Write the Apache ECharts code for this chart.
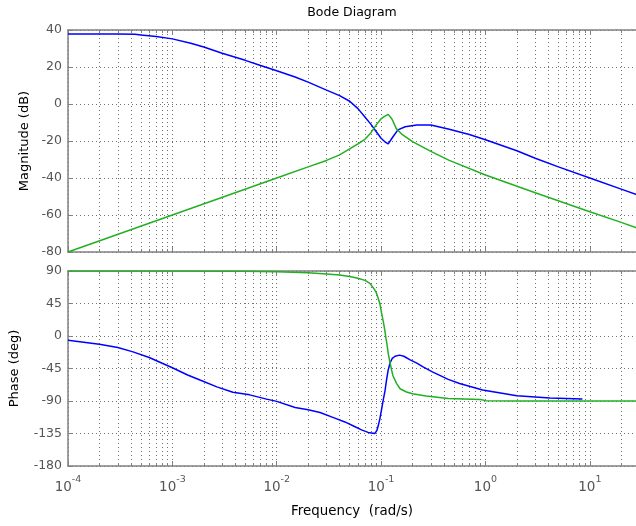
<!DOCTYPE html>
<html><head><meta charset="utf-8">
<script src="https://cdn.jsdelivr.net/npm/echarts@6/dist/echarts.min.js"></script>
<style>html,body{margin:0;padding:0;background:#fff;overflow:hidden;width:636px;height:526px}#c{width:700px;height:526px}</style>
</head><body><div id="c"></div>
<script>
// ---- data ----
const xTickExponents = [-4, -3, -2, -1, 0, 1];
const magTicks = [-80, -60, -40, -20, 0, 20, 40];
const phaseTicks = [-180, -135, -90, -45, 0, 45, 90];

const magBlueFreq = [1e-4, 3e-4, 4.4e-4, 5e-4, 7e-4, 1e-3, 1.5e-3, 2e-3, 3e-3, 5e-3, 7e-3, 1e-2, 1.5e-2, 2e-2, 3e-2, 4e-2, 5e-2, 6e-2, 7e-2, 8e-2, 9e-2, 0.1, 0.108, 0.117, 0.13, 0.145, 0.17, 0.22, 0.3, 0.45, 0.7, 1, 2, 3, 5, 10, 20, 31.6];
const magBlueDb   = [37.8, 37.8, 37.7, 37.3, 36.5, 35.2, 32.8, 30.8, 27.4, 23.6, 20.8, 18.0, 14.6, 11.8, 7.5, 4.5, 1.5, -2.5, -7, -11, -15, -18.5, -20.3, -21.6, -17.7, -14, -12.3, -11.3, -11.4, -13.7, -16.5, -19.3, -25.3, -29.3, -34, -40, -46, -50];

const magGreenFreq = [1e-4, 1e-3, 1e-2, 2e-2, 3e-2, 4e-2, 5e-2, 6e-2, 7e-2, 8e-2, 9e-2, 0.1, 0.107, 0.117, 0.127, 0.14, 0.16, 0.2, 0.3, 0.45, 1, 3, 10, 20, 31.6];
const magGreenDb   = [-80, -60, -40, -34, -30.5, -27.5, -24.3, -21.5, -19.1, -15.5, -11.3, -8, -6.8, -5.6, -8.1, -13.3, -16.6, -20.3, -25.6, -30.5, -38.4, -48, -58.2, -64, -68];

const phBlueFreq = [1e-4, 2e-4, 3e-4, 4.2e-4, 6e-4, 1e-3, 1.4e-3, 1.84e-3, 2.67e-3, 3.8e-3, 5.5e-3, 8e-3, 1e-2, 1.5e-2, 2e-2, 2.6e-2, 3.5e-2, 4.5e-2, 5.5e-2, 6.5e-2, 7.5e-2, 8.7e-2, 9.1e-2, 9.4e-2, 9.75e-2, 0.101, 0.105, 0.109, 0.113, 0.117, 0.122, 0.128, 0.136, 0.15, 0.165, 0.19, 0.22, 0.25, 0.31, 0.44, 0.565, 0.94, 2, 4.15, 8.5];
const phBlueDeg  = [-5.8, -11.3, -16, -22, -29.8, -44, -54, -61, -70.4, -78, -81.5, -87.4, -90.5, -99, -102, -106, -113, -119, -125, -130, -133.5, -135, -131, -124, -114, -102, -88, -76, -60, -47, -37, -31, -28, -26.5, -28, -33, -37.5, -42.5, -49.6, -60, -65.7, -74.9, -82.8, -86, -87.4];

const phGreenFreq = [1e-4, 1e-3, 5e-3, 1e-2, 2e-2, 3e-2, 4e-2, 5e-2, 6e-2, 7e-2, 7.8e-2, 8.5e-2, 9e-2, 9.4e-2, 9.75e-2, 0.101, 0.105, 0.108, 0.111, 0.114, 0.117, 0.121, 0.126, 0.13, 0.141, 0.152, 0.175, 0.2, 0.27, 0.44, 0.9, 1.0, 2, 10, 31.6];
const phGreenDeg  = [90, 90, 89.8, 89, 87.5, 86, 84.5, 82.5, 80, 77, 73, 66, 60, 52, 44, 32, 20, 10, -2, -12, -24, -35, -47, -55, -66, -73, -77.5, -80, -83, -86.4, -88, -89.5, -90, -90, -90];

// ---- chart ----
const zip = (a, b) => a.map((v, i) => [v, b[i]]);
const FONT = 'DejaVu Sans';
const AX = '#808080';
const GRIDC = '#707070';
const LBL = '#555';
const X_MIN = 1e-4, X_MAX = Math.pow(10, 1.5);
const minorLogs = [];
xTickExponents.forEach(e => { for (let m = 2; m <= 9; m++) { const l = Math.log10(m) + e; if (l < 1.5) minorLogs.push(l); } });

const grids = [
  { left: 68, top: 30, width: 574, height: 222 },
  { left: 68, top: 271, width: 574, height: 195 }
];

function xAxesFor(gi, withLabels) {
  return [
    { type: 'log', gridIndex: gi, logBase: 10, min: X_MIN, max: X_MAX, position: 'bottom',
      axisLine: { show: true, onZero: false, lineStyle: { color: AX, width: 1.5 } },
      axisTick: { show: true, inside: true, length: 5, lineStyle: { color: AX } },
      splitLine: { show: true, lineStyle: { color: GRIDC, type: [1, 3], width: 1 } },
      axisLabel: { show: withLabels, margin: 8, fontFamily: FONT,
        formatter: v => { const l = Math.log10(v); const e = Math.round(l); if (Math.abs(l - e) > 1e-6 || xTickExponents.indexOf(e) < 0) return ''; return '{b|10}{s|' + e + '}'; },
        rich: { b: { fontSize: 13.5, color: LBL, fontFamily: FONT, lineHeight: 26 }, s: { fontSize: 9.5, color: LBL, fontFamily: FONT, verticalAlign: 'top', padding: [1, 0, 0, 0] } } } },
    { type: 'value', gridIndex: gi, min: -4, max: 1.5, position: 'bottom',
      axisLine: { show: false, onZero: false }, axisLabel: { show: false },
      axisTick: { show: true, inside: true, length: 3, customValues: minorLogs, lineStyle: { color: AX } },
      splitLine: { show: true, lineStyle: { color: GRIDC, type: [1, 3], width: 1 } } },
    { type: 'log', gridIndex: gi, logBase: 10, min: X_MIN, max: X_MAX, position: 'top',
      axisLine: { show: true, onZero: false, lineStyle: { color: AX, width: 1.5 } },
      axisTick: { show: true, inside: true, length: 5, lineStyle: { color: AX } },
      splitLine: { show: false }, axisLabel: { show: false } },
    { type: 'value', gridIndex: gi, min: -4, max: 1.5, position: 'top',
      axisLine: { show: false, onZero: false }, axisLabel: { show: false },
      axisTick: { show: true, inside: true, length: 3, customValues: minorLogs, lineStyle: { color: AX } },
      splitLine: { show: false } }
  ];
}

function yAxisFor(gi, ticks, name, gap) {
  return { type: 'value', gridIndex: gi, min: ticks[0], max: ticks[ticks.length - 1], interval: ticks[1] - ticks[0],
    position: 'left',
    axisLine: { show: true, onZero: false, lineStyle: { color: AX, width: 1.5 } },
    axisTick: { show: true, inside: true, length: 5, lineStyle: { color: AX } },
    splitLine: { show: true, lineStyle: { color: GRIDC, type: [1, 3], width: 1 } },
    axisLabel: { show: true, margin: 6, fontSize: 12.5, color: LBL, fontFamily: FONT },
    name: name, nameLocation: 'middle', nameGap: gap,
    nameTextStyle: { fontSize: 13, color: '#000', fontFamily: FONT } };
}

const BLUE = '#0000ff', GREEN = '#22b022';
function line(data, color, xi, yi) {
  return { type: 'line', data: data, xAxisIndex: xi, yAxisIndex: yi, showSymbol: false, symbol: 'none',
    smooth: false, lineStyle: { color: color, width: 1.5 }, itemStyle: { color: color }, silent: true, clip: true };
}

const chart = echarts.init(document.getElementById('c'), null, { renderer: 'canvas' });
chart.setOption({
  animation: false,
  backgroundColor: '#fff',
  grid: grids,
  xAxis: xAxesFor(0, false).concat(xAxesFor(1, true)),
  yAxis: [yAxisFor(0, magTicks, 'Magnitude (dB)', 37), yAxisFor(1, phaseTicks, 'Phase (deg)', 47)],
  series: [
    line(zip(magBlueFreq, magBlueDb), BLUE, 0, 0),
    line(zip(magGreenFreq, magGreenDb), GREEN, 0, 0),
    line(zip(phBlueFreq, phBlueDeg), BLUE, 4, 1),
    line(zip(phGreenFreq, phGreenDeg), GREEN, 4, 1)
  ],
  graphic: [
    { type: 'text', x: 352, y: 13, style: { text: 'Bode Diagram', fontSize: 12.5, fontFamily: FONT, fill: '#000', align: 'center', verticalAlign: 'middle' } },
    { type: 'text', x: 352, y: 512, style: { text: 'Frequency  (rad/s)', fontSize: 13.4, fontFamily: FONT, fill: '#000', align: 'center', verticalAlign: 'middle' } }
  ]
});
</script>
</body></html>
